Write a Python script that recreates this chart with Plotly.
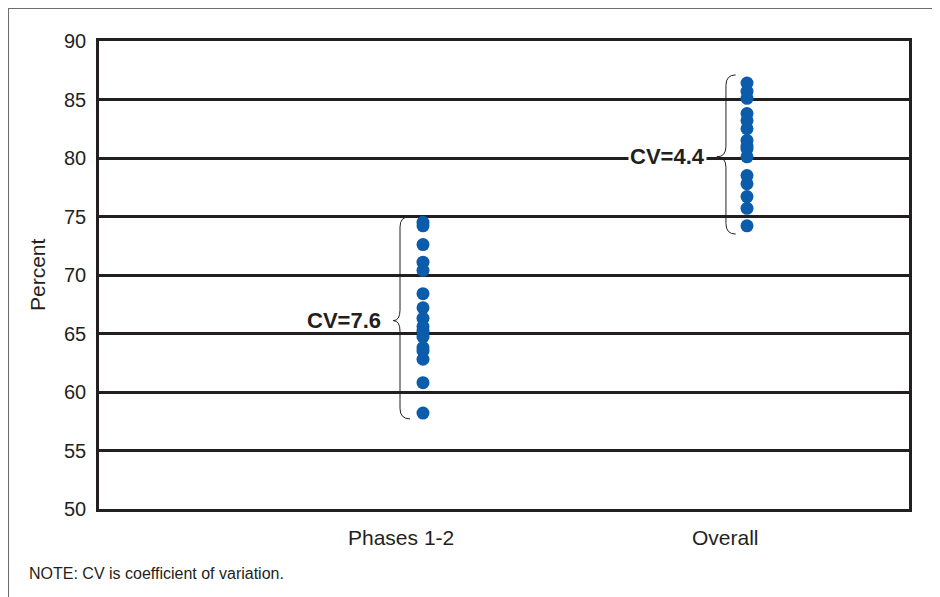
import plotly.graph_objects as go

categories = ["Phases 1-2", "Overall"]
category_x = [1, 2]
phases_values = [74.5, 74.2, 72.6, 71.1, 70.4, 68.4, 67.2, 66.3, 65.6, 65.2,
                 64.7, 63.8, 63.5, 62.8, 60.8, 58.2]
overall_values = [86.4, 85.7, 85.1, 83.8, 83.2, 82.5, 81.5, 81.0, 80.8, 80.1,
                  78.5, 77.8, 76.7, 75.7, 74.2]
cv_labels = ["CV=7.6", "CV=4.4"]
cv_tip_y = [66.1, 80.1]
y_ticks = [50, 55, 60, 65, 70, 75, 80, 85, 90]

INK = "#231f20"
DOT = "#0b5cab"
FONT = "Liberation Sans, Arial, Helvetica, sans-serif"

fig = go.Figure()
for xv, vals in zip(category_x, [phases_values, overall_values]):
    fig.add_trace(go.Scatter(
        x=[xv] * len(vals), y=vals, mode="markers",
        marker=dict(size=13, color=DOT, line=dict(width=0)),
        showlegend=False, hoverinfo="y"))

shapes = []
annotations = []

def brace(xb, xt, xe, ytop, ymid, ybot, d=0.9):
    return (f"M {xe},{ytop} Q {xb},{ytop} {xb},{ytop - d} "
            f"L {xb},{ymid + d} Q {xb},{ymid} {xt},{ymid} "
            f"Q {xb},{ymid} {xb},{ymid - d} "
            f"L {xb},{ybot + d} Q {xb},{ybot} {xe},{ybot} ")

brace_offsets = [(-0.071, -0.092, -0.04), (-0.065, -0.093, -0.035)]
label_bg = ["rgba(0,0,0,0)", "white"]
brace_pad = [0.5, 0.7]
for xv, vals, (ob, ot, oe), lab, ty, bg, pad in zip(
        category_x, [phases_values, overall_values], brace_offsets,
        cv_labels, cv_tip_y, label_bg, brace_pad):
    ytop = max(vals) + pad
    ybot = min(vals) - pad
    shapes.append(dict(type="path", xref="x", yref="y",
                       path=brace(xv + ob, xv + ot, xv + oe, ytop, ty, ybot),
                       line=dict(color=INK, width=1)))
    annotations.append(dict(x=xv + ot - 0.03, y=ty, xref="x", yref="y",
                            text=f"<b>{lab}</b>", showarrow=False,
                            xanchor="right", yanchor="middle",
                            bgcolor=bg, borderpad=1,
                            font=dict(family=FONT, size=22, color=INK)))

# category labels (set slightly left of the dot columns, as in the original)
for xv, cat in zip(category_x, categories):
    annotations.append(dict(x=xv, y=0, xref="x", yref="paper", text=cat,
                            showarrow=False, xanchor="center", yanchor="middle",
                            xshift=-22, yshift=-28,
                            font=dict(family=FONT, size=21, color=INK)))

# outer frame (top and left)
shapes.append(dict(type="line", xref="paper", yref="paper",
                   x0=-0.1123, x1=1.06, y0=1.0705, y1=1.0705,
                   line=dict(color="#6d6e71", width=2)))
shapes.append(dict(type="line", xref="paper", yref="paper",
                   x0=-0.1123, x1=-0.1123, y0=1.0705, y1=-0.21,
                   line=dict(color="#6d6e71", width=2)))

annotations.append(dict(x=-0.0765, y=0.5, xref="paper", yref="paper",
                        text="Percent", showarrow=False, textangle=-90,
                        xanchor="center", yanchor="middle",
                        font=dict(family=FONT, size=21, color=INK)))
annotations.append(dict(x=-0.0889, y=-0.1368, xref="paper", yref="paper",
                        text="NOTE: CV is coefficient of variation.", showarrow=False,
                        xanchor="left", yanchor="middle",
                        font=dict(family=FONT, size=16, color=INK)))

fig.update_layout(
    width=940, height=597,
    margin=dict(l=91, r=39, t=33, b=96),
    paper_bgcolor="white", plot_bgcolor="white",
    font=dict(family=FONT, color=INK),
    shapes=shapes, annotations=annotations,
    xaxis=dict(range=[0, 2.5], showticklabels=False,
               showgrid=False, zeroline=False, showline=True, mirror=True,
               linecolor=INK, linewidth=2.5, ticks=""),
    yaxis=dict(range=[50, 90], tickvals=y_ticks, showgrid=True,
               gridcolor=INK, gridwidth=2.5, zeroline=False, showline=True,
               mirror=True, linecolor=INK, linewidth=2.5, ticks="",
               ticklabelstandoff=6,
               tickfont=dict(family=FONT, size=20, color=INK)),
)

fig.write_html("out.html")
